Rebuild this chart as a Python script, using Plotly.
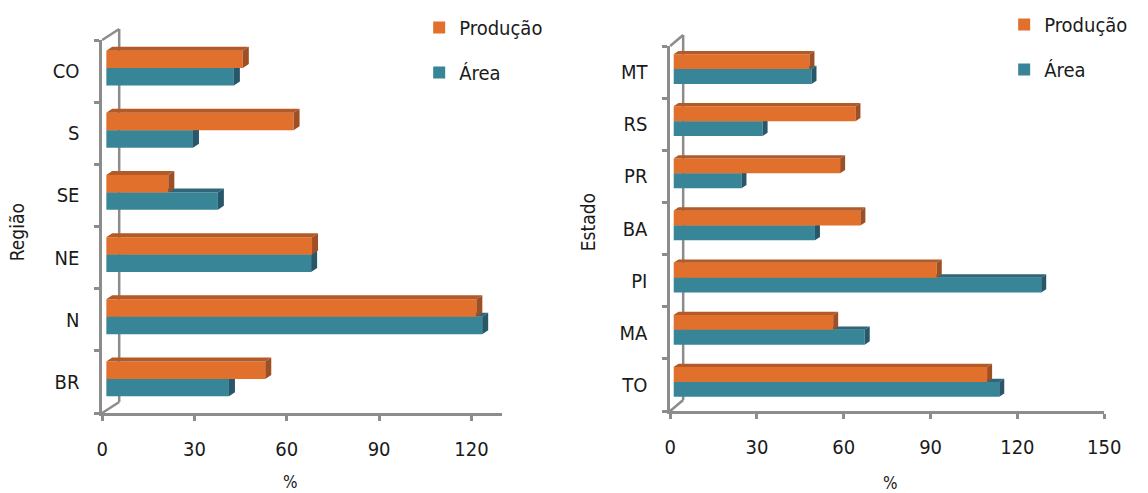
import plotly.graph_objects as go

# ---- data (categories listed bottom to top) ----
regioes = ["BR", "N", "NE", "SE", "S", "CO"]
reg_producao = [51.7, 120.3, 66.9, 20.2, 60.9, 44.4]
reg_area = [39.9, 122.2, 66.6, 36.3, 28.2, 41.5]

estados = ["TO", "MA", "PI", "BA", "PR", "RS", "MT"]
est_producao = [108.4, 55.2, 91.0, 64.6, 57.6, 62.9, 47.0]
est_area = [112.6, 66.1, 127.1, 48.9, 23.5, 30.8, 47.7]

reg_xticks = [0, 30, 60, 90, 120]
est_xticks = [0, 30, 60, 90, 120, 150]

# ---- styling ----
W, H = 1148, 493
FONT = "DejaVu Sans Condensed, Lato, sans-serif"
TXT = "#1a1a1a"
GRAY = "#8c8c8c"
C_PROD = "#e0702c"
C_PROD_TOP = "#b25a28"
C_PROD_SIDE = "#9e4f26"
C_AREA = "#398598"
C_AREA_TOP = "#2f6679"
C_AREA_SIDE = "#28576a"

# horizontal placement correction for the rendered page
X_SCALE, X_OFF = 0.98, 5.8


def fx(p):
    return (p - X_OFF) / X_SCALE / W


def fy(p):
    return 1 - p / H


panels = [
    dict(cats=regioes, prod=reg_producao, area=reg_area, ticks=reg_xticks,
         xmax=130, x0=102, x1=502, top=40, bot=413,
         wall=(17, 11), shift=(4, 3), depth=(6, 4), bw=0.28,
         ytitle="Região", ytitle_pos=(17, 232), xtitle_pos=(290, 482),
         legend="legend", ax=(1, 2, 3)),
    dict(cats=estados, prod=est_producao, area=est_area, ticks=est_xticks,
         xmax=150, x0=670, x1=1104, top=46, bot=411,
         wall=(13, 11), shift=(3.3, 3), depth=(5, 3.3), bw=0.285,
         ytitle="Estado", ytitle_pos=(588, 222), xtitle_pos=(890, 483),
         legend="legend2", ax=(4, 5, 6)),
]

fig = go.Figure()
layout = dict(
    width=W, height=H, autosize=False,
    margin=dict(l=0, r=0, t=0, b=0),
    paper_bgcolor="white", plot_bgcolor="rgba(0,0,0,0)",
    barmode="overlay", showlegend=True,
    font=dict(family=FONT, size=20, color=TXT),
)
shapes, annotations = [], []


def axname(i, kind):
    return kind if i == 1 else f"{kind}{i}"


def faces(vals, y_lo, y_hi, dx, dy):
    """Top and right-side parallelograms of each bar, in data units."""
    tx, ty, sx, sy = [], [], [], []
    for v, a, b in zip(vals, y_lo, y_hi):
        tx += [0, v, v + dx, dx, 0, None]
        ty += [b, b, b + dy, b + dy, b, None]
        sx += [v, v, v + dx, v + dx, v, None]
        sy += [a, b, b + dy, a + dy, a, None]
    return (tx, ty), (sx, sy)


for p in panels:
    n = len(p["cats"])
    pos = list(range(n))
    i_front, i_area, i_prod = p["ax"]
    ppu = (p["x1"] - p["x0"]) / p["xmax"]       # pixels per value unit
    ppc = (p["bot"] - p["top"]) / n             # pixels per category
    sx_px, sy_px = p["shift"]
    dx = p["depth"][0] / ppu
    dy = p["depth"][1] / ppc
    bw = p["bw"]

    # front plane: axes with ticks and labels
    layout[axname(i_front, "xaxis")] = dict(
        domain=[fx(p["x0"]), fx(p["x1"])], range=[0, p["xmax"]],
        anchor=axname(i_front, "y"), tickvals=p["ticks"],
        ticks="outside", ticklen=5, tickwidth=2.5, tickcolor=GRAY,
        showline=True, linecolor=GRAY, linewidth=2.5,
        showgrid=False, zeroline=False, ticklabelstandoff=11,
        tickfont=dict(size=20, color=TXT), fixedrange=True,
    )
    layout[axname(i_front, "yaxis")] = dict(
        domain=[fy(p["bot"]), fy(p["top"])], range=[-0.5, n - 0.5],
        anchor=axname(i_front, "x"), tickvals=pos, ticktext=p["cats"],
        ticks="", showline=True, linecolor=GRAY, linewidth=2.5,
        minor=dict(tickvals=[k - 0.5 for k in range(n + 1)], ticks="outside",
                   ticklen=5, tickwidth=2.5, tickcolor=GRAY, showgrid=False),
        showgrid=False, zeroline=False, ticklabelstandoff=16,
        tickfont=dict(size=20, color=TXT), fixedrange=True,
    )
    # invisible anchor trace so the front axes get drawn
    fig.add_trace(go.Scatter(
        x=[0], y=[0], mode="markers", marker=dict(opacity=0),
        hoverinfo="skip", showlegend=False,
        xaxis=axname(i_front, "x"), yaxis=axname(i_front, "y"),
    ))

    # bar plane, slightly behind the front plane
    for i in (i_area, i_prod):
        layout[axname(i, "xaxis")] = dict(
            domain=[fx(p["x0"] + sx_px), fx(p["x1"] + sx_px)],
            range=[0, p["xmax"]], anchor=axname(i, "y"), visible=False,
            fixedrange=True,
        )
        layout[axname(i, "yaxis")] = dict(
            domain=[fy(p["bot"] - sy_px), fy(p["top"] - sy_px)],
            range=[-0.5, n - 0.5], anchor=axname(i, "x"), visible=False,
            fixedrange=True,
        )

    series = [
        ("Área", p["area"], i_area, -bw, C_AREA, C_AREA_TOP, C_AREA_SIDE, "a"),
        ("Produção", p["prod"], i_prod, 0.0, C_PROD, C_PROD_TOP, C_PROD_SIDE, "p"),
    ]
    for name, vals, i, off, c, ctop, cside, grp in series:
        xa, ya = axname(i, "x"), axname(i, "y")
        fig.add_trace(go.Bar(
            name=name, orientation="h", x=vals, y=pos, width=bw, offset=off,
            marker=dict(color=c, line=dict(width=0)),
            xaxis=xa, yaxis=ya, legend=p["legend"], legendgroup=grp,
            legendrank=1 if grp == "p" else 2, hoverinfo="x+name",
        ))
        y_lo = [k + off for k in pos]
        y_hi = [k + off + bw for k in pos]
        (tx, ty), (sx, sy) = faces(vals, y_lo, y_hi, dx, dy)
        for fxs, fys, fc in ((tx, ty, ctop), (sx, sy, cside)):
            fig.add_trace(go.Scatter(
                x=fxs, y=fys, mode="lines", fill="toself", fillcolor=fc,
                line=dict(width=0, color=fc), hoverinfo="skip",
                showlegend=False, xaxis=xa, yaxis=ya, legend=p["legend"],
            ))

    # walls: back edge and the two oblique edges of the side wall
    wx, wy = p["wall"]
    x0, top, bot = p["x0"], p["top"], p["bot"]
    for (a, b, c, d) in ((x0 + wx, top - wy, x0 + wx, bot - wy),
                         (x0, top, x0 + wx, top - wy),
                         (x0, bot, x0 + wx, bot - wy)):
        shapes.append(dict(type="line", xref="paper", yref="paper",
                           x0=fx(a), y0=fy(b), x1=fx(c), y1=fy(d),
                           line=dict(color=GRAY, width=2.5), layer="below"))

    tx_, ty_ = p["ytitle_pos"]
    annotations.append(dict(text=p["ytitle"], x=fx(tx_), y=fy(ty_),
                            xref="paper", yref="paper", showarrow=False,
                            xanchor="center", yanchor="middle",
                            textangle=-90, font=dict(size=19, color=TXT)))
    tx_, ty_ = p["xtitle_pos"]
    annotations.append(dict(text="%", x=fx(tx_), y=fy(ty_),
                            xref="paper", yref="paper", showarrow=False,
                            xanchor="center", yanchor="middle",
                            font=dict(size=17, color=TXT)))

legend_common = dict(
    bgcolor="rgba(0,0,0,0)", borderwidth=0, traceorder="grouped",
    tracegroupgap=16, font=dict(size=20, color=TXT),
    xanchor="left", yanchor="top", itemclick=False, itemdoubleclick=False,
)
layout["legend"] = dict(legend_common, x=fx(419), y=fy(8))
layout["legend2"] = dict(legend_common, x=fx(1004), y=fy(5))
layout["shapes"] = shapes
layout["annotations"] = annotations

fig.update_layout(**layout)
fig.write_html(
    "out.html",
    config={"responsive": False, "displayModeBar": False},
    post_script=(
        "document.body.style.margin='0';"
        "document.documentElement.style.overflow='hidden';"
        "document.body.style.overflow='hidden';"
    ),
)
